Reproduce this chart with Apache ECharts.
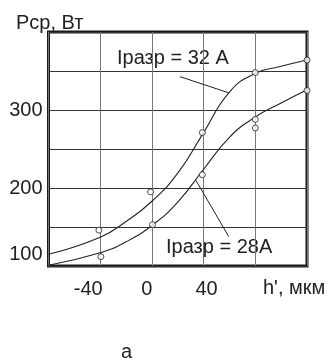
<!DOCTYPE html>
<html>
<head>
<meta charset="utf-8">
<script src="https://cdn.jsdelivr.net/npm/echarts@6/dist/echarts.min.js"></script>
<style>
  html, body { margin: 0; padding: 0; background: #fff; }
  #chart { width: 332px; height: 363px; }
</style>
</head>
<body>
<div id="chart"></div>
<script>
// ось h', мкм и подписи
const xTicks = [-40, 0, 40]
const yTicks = [100, 200, 300]

// кривая Iразр = 32 A
const curve32X = [-80, -40, -20, 0, 20, 40, 60, 80, 100, 120]
const curve32Y = [115, 137, 157, 183, 219, 271, 323, 347, 356, 364]
// кривая Iразр = 28 A
const curve28X = [-80, -40, -20, 0, 20, 40, 60, 80, 100, 120]
const curve28Y = [101, 117, 131, 152, 182, 224, 265, 291, 309, 326]

// экспериментальные точки
const pts32X = [-41, -1, 39, 80, 120]
const pts32Y = [146, 195, 271, 348, 364]
const pts28X = [-39.5, 0.5, 39, 80, 80, 120]
const pts28Y = [112, 153, 217, 288, 277, 325]

const zip = (xs, ys) => xs.map((x, i) => [x, ys[i]])

const font = 'Liberation Sans, Arial, sans-serif'
const ink = '#222'

const chart = echarts.init(document.getElementById('chart'))
chart.setOption({
  animation: false,
  title: {
    text: 'Рср, Вт',
    left: 11,
    top: 8,
    textStyle: { fontFamily: font, fontSize: 20, fontWeight: 'normal', color: ink }
  },
  grid: {
    left: 48.5,
    right: 25,
    top: 32,
    bottom: 97,
    show: true,
    borderColor: '#1a1a1a',
    borderWidth: 3
  },
  xAxis: {
    type: 'value',
    min: -80,
    max: 120,
    interval: 40,
    axisLine: { show: false },
    axisTick: { show: false },
    splitLine: { lineStyle: { color: '#777', width: 1 } },
    axisLabel: {
      margin: 13,
      fontFamily: font,
      fontSize: 20,
      color: ink,
      formatter: v => {
        if (v === -40) return '{l|-40}'
        if (v === 0) return '{m|0}'
        if (v === 40) return '{r|40}'
        return ''
      },
      rich: {
        l: { fontFamily: font, fontSize: 20, color: ink, padding: [0, 24, 0, 0] },
        m: { fontFamily: font, fontSize: 20, color: ink, padding: [0, 10, 0, 0] },
        r: { fontFamily: font, fontSize: 20, color: ink, padding: [0, 0, 0, 6] }
      }
    }
  },
  yAxis: {
    type: 'value',
    min: 100,
    max: 400,
    interval: 50,
    axisLine: { show: false },
    axisTick: { show: false },
    splitLine: { lineStyle: { color: '#333', width: 1 } },
    axisLabel: {
      margin: 6,
      fontFamily: font,
      fontSize: 20,
      color: ink,
      formatter: v => {
        if (v === 100) return '{low|100}'
        return yTicks.indexOf(v) >= 0 ? String(v) : ''
      },
      rich: {
        low: { fontFamily: font, fontSize: 20, color: ink, padding: [0, 0, 24, 0] }
      }
    }
  },
  graphic: [
    {
      type: 'text', left: 263, top: 278,
      style: { text: "h', мкм", font: '20px ' + font, fill: ink }
    },
    {
      type: 'text', left: 121, top: 342,
      style: { text: 'а', font: '20px ' + font, fill: ink }
    },
    {
      type: 'text', left: 117, top: 48,
      style: { text: 'Iразр = 32 А', font: '20px ' + font, fill: ink }
    },
    {
      type: 'text', left: 166, top: 237,
      style: { text: 'Iразр = 28А', font: '20px ' + font, fill: ink }
    }
  ],
  series: [
    {
      name: '32 A',
      type: 'line',
      smooth: true,
      showSymbol: false,
      lineStyle: { color: ink, width: 1.1 },
      data: zip(curve32X, curve32Y),
      markLine: {
        silent: true,
        symbol: 'none',
        label: { show: false },
        lineStyle: { color: ink, width: 1, type: 'solid' },
        data: [[{ coord: [21.8, 342.7] }, { coord: [59.5, 322] }]]
      }
    },
    {
      name: '28 A',
      type: 'line',
      smooth: true,
      showSymbol: false,
      lineStyle: { color: ink, width: 1.1 },
      data: zip(curve28X, curve28Y),
      markLine: {
        silent: true,
        symbol: 'none',
        label: { show: false },
        lineStyle: { color: ink, width: 1, type: 'solid' },
        data: [[{ coord: [34, 210] }, { coord: [59.5, 137.6] }]]
      }
    },
    {
      type: 'scatter',
      symbol: 'circle',
      symbolSize: 6,
      itemStyle: { color: '#fff', borderColor: ink, borderWidth: 1 },
      data: zip(pts32X, pts32Y),
      z: 5
    },
    {
      type: 'scatter',
      symbol: 'circle',
      symbolSize: 6,
      itemStyle: { color: '#fff', borderColor: ink, borderWidth: 1 },
      data: zip(pts28X, pts28Y),
      z: 5
    }
  ]
})
</script>
</body>
</html>
